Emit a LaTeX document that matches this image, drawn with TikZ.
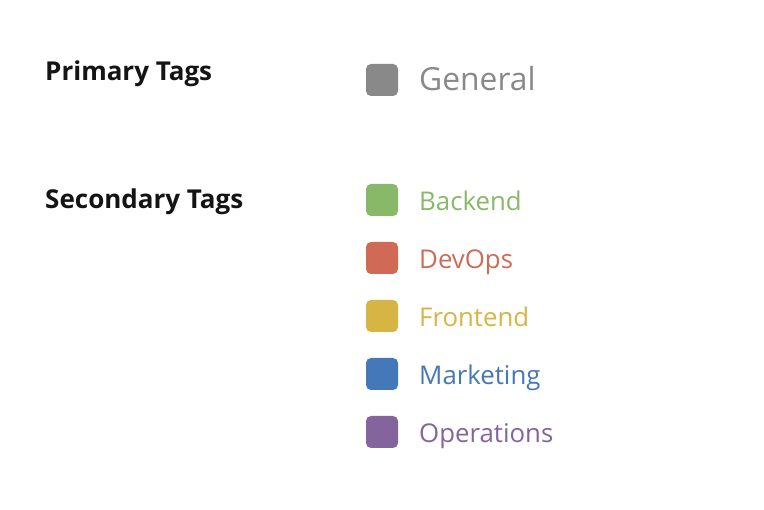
\documentclass[tikz,border=0pt]{standalone}
\usepackage{fontspec}
\setmainfont{Open Sans}
\definecolor{cgray}{HTML}{898989}
\definecolor{cgreen}{HTML}{87B968}
\definecolor{cred}{HTML}{D06A57}
\definecolor{cyellow}{HTML}{D7B544}
\definecolor{cblue}{HTML}{4478B8}
\definecolor{cpurple}{HTML}{83649C}
\tikzset{
  swatch/.style={draw=none,minimum width=32pt,minimum height=32pt,rounded corners=5pt,inner sep=0pt},
  heading/.style={anchor=base west,inner sep=0pt,font=\fontsize{26}{30}\selectfont\bfseries,text=black!92},
  taglabel/.style={anchor=base west,inner sep=0pt,font=\fontsize{25.8}{30}\selectfont},
  biglabel/.style={anchor=base west,inner sep=0pt,font=\fontsize{31.8}{36}\selectfont}
}
\begin{document}
\begin{tikzpicture}[x=1pt,y=-1pt]
\useasboundingbox[fill=white] (0,0) rectangle (764,510);
\node[heading] (hp) at (45,81) {Primary Tags};
\node[heading] (hs) at (45,209) {Secondary Tags};
\node[swatch,fill=cgray] (sg) at (382,80) {};
\node[biglabel,text=cgray] (lg) at (419,91) {General};
\node[swatch,fill=cgreen] (s1) at (382,200) {};
\node[taglabel,text=cgreen] (l1) at (419,210.5) {Backend};
\node[swatch,fill=cred] (s2) at (382,258) {};
\node[taglabel,text=cred] (l2) at (419,268.5) {DevOps};
\node[swatch,fill=cyellow] (s3) at (382,316) {};
\node[taglabel,text=cyellow] (l3) at (419,326.5) {Frontend};
\node[swatch,fill=cblue] (s4) at (382,374) {};
\node[taglabel,text=cblue] (l4) at (419,384.5) {Marketing};
\node[swatch,fill=cpurple] (s5) at (382,432) {};
\node[taglabel,text=cpurple] (l5) at (419,442.5) {Operations};
\end{tikzpicture}
\end{document}
